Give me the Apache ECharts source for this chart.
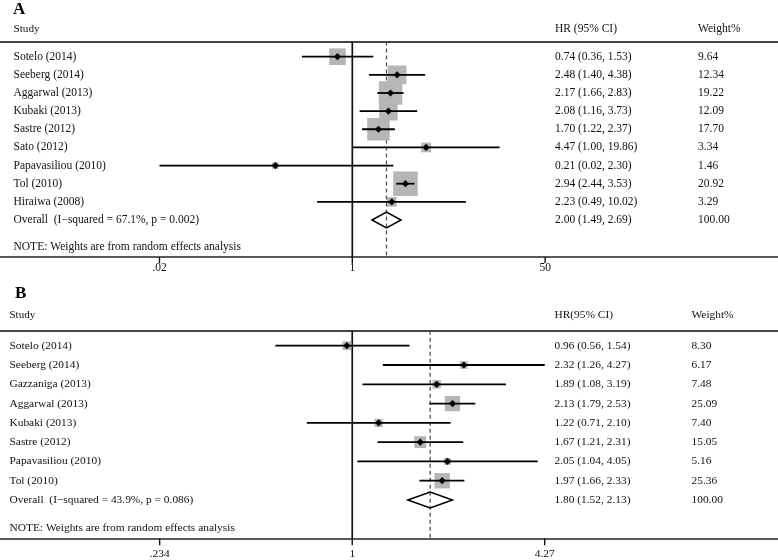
<!DOCTYPE html>
<html><head><meta charset="utf-8">
<script src="https://cdn.jsdelivr.net/npm/echarts@6/dist/echarts.min.js"></script>
<style>html,body{margin:0;padding:0;background:#fff}#c{width:778px;height:560px}</style>
</head><body><div id="c"></div>
<script>
// ---- Panel A data ----
const studiesA = ['Sotelo (2014)','Seeberg (2014)','Aggarwal (2013)','Kubaki (2013)','Sastre (2012)','Sato (2012)','Papavasiliou (2010)','Tol (2010)','Hiraiwa (2008)'];
const hrA = [0.74, 2.48, 2.17, 2.08, 1.70, 4.47, 0.21, 2.94, 2.23];
const loA = [0.36, 1.40, 1.66, 1.16, 1.22, 1.00, 0.02, 2.44, 0.49];
const hiA = [1.53, 4.38, 2.83, 3.73, 2.37, 19.86, 2.30, 3.53, 10.02];
const wA  = [9.64, 12.34, 19.22, 12.09, 17.70, 3.34, 1.46, 20.92, 3.29];
const overallA = [2.00, 1.49, 2.69];
const overallLabelA = 'Overall  (I\u2212squared = 67.1%, p = 0.002)';
const ticksA = [0.02, 1, 50];
const tickLabelsA = ['.02', '1', '50'];

// ---- Panel B data ----
const studiesB = ['Sotelo (2014)','Seeberg (2014)','Gazzaniga (2013)','Aggarwal (2013)','Kubaki (2013)','Sastre (2012)','Papavasiliou (2010)','Tol (2010)'];
const hrB = [0.96, 2.32, 1.89, 2.13, 1.22, 1.67, 2.05, 1.97];
const loB = [0.56, 1.26, 1.08, 1.79, 0.71, 1.21, 1.04, 1.66];
const hiB = [1.54, 4.27, 3.19, 2.53, 2.10, 2.31, 4.05, 2.33];
const wB  = [8.30, 6.17, 7.48, 25.09, 7.40, 15.05, 5.16, 25.36];
const overallB = [1.80, 1.52, 2.13];
const overallLabelB = 'Overall  (I\u2212squared = 43.9%, p = 0.086)';
const ticksB = [0.234, 1, 4.27];
const tickLabelsB = ['.234', '1', '4.27'];

const noteText = 'NOTE: Weights are from random effects analysis';
const FONT = '"Liberation Serif", "Times New Roman", serif';

function fmt(v){ return v.toFixed(2); }

const chart = echarts.init(document.getElementById('c'), null, {renderer:'canvas'});

function panel(gi, P) {
  const n = P.studies.length;
  const series = [];
  // reference lines (x = 1 solid, overall dashed)
  series.push({
    type:'custom', xAxisIndex: gi*2, yAxisIndex: gi, z: 1,
    data: [[1, 0], [P.overall[0], 0]],
    encode: {x:0, y:1},
    renderItem: function(params, api){
      const cs = params.coordSys;
      const x = api.coord([api.value(0), 0])[0];
      const dashed = params.dataIndex === 1;
      return {type:'line', shape:{x1:x, y1:cs.y, x2:x, y2:cs.y+cs.height},
        style:{stroke: dashed ? '#555' : '#111', lineWidth: dashed ? 1.3 : 1.7, lineDash: dashed ? [4,3] : null}};
    }
  });
  // study squares, CI lines, point markers
  series.push({
    type:'custom', xAxisIndex: gi*2, yAxisIndex: gi, z: 2,
    data: P.studies.map((s,i)=>[P.hr[i], P.lo[i], P.hi[i], P.w[i], i]),
    encode: {x:[0,1,2], y:4},
    renderItem: function(params, api){
      const r = api.value(4);
      const c = api.coord([api.value(0), r]);
      const l = api.coord([api.value(1), r]);
      const h = api.coord([api.value(2), r]);
      const s = P.k * Math.sqrt(api.value(3));
      const d = 3.6;
      return {type:'group', children:[
        {type:'rect', shape:{x:c[0]-s/2, y:c[1]-s/2, width:s, height:s}, style:{fill:'#b6b6b6'}},
        {type:'line', shape:{x1:l[0], y1:l[1], x2:h[0], y2:h[1]}, style:{stroke:'#000', lineWidth:1.8}},
        {type:'polygon', shape:{points:[[c[0]-d,c[1]],[c[0],c[1]-d],[c[0]+d,c[1]],[c[0],c[1]+d]]}, style:{fill:'#000'}}
      ]};
    }
  });
  // overall diamond
  series.push({
    type:'custom', xAxisIndex: gi*2, yAxisIndex: gi, z: 3,
    data: [[P.overall[0], P.overall[1], P.overall[2], n]],
    encode: {x:[0,1,2], y:3},
    renderItem: function(params, api){
      const r = api.value(3);
      const c = api.coord([api.value(0), r]);
      const l = api.coord([api.value(1), r]);
      const h = api.coord([api.value(2), r]);
      const hh = 8;
      return {type:'polygon', shape:{points:[[l[0],c[1]],[c[0],c[1]-hh],[h[0],c[1]],[c[0],c[1]+hh]]},
        style:{fill:'none', stroke:'#000', lineWidth:1.5}};
    }
  });
  // row texts
  const rows = P.studies.map((s,i)=>[1, i, s, fmt(P.hr[i])+' ('+fmt(P.lo[i])+', '+fmt(P.hi[i])+')', fmt(P.w[i])]);
  rows.push([1, n, P.overallLabel, fmt(P.overall[0])+' ('+fmt(P.overall[1])+', '+fmt(P.overall[2])+')', '100.00']);
  series.push({
    type:'custom', xAxisIndex: gi*2, yAxisIndex: gi, z: 4,
    data: rows.map(r=>[r[0], r[1]]),
    encode: {x:0, y:1},
    renderItem: function(params, api){
      const y = api.coord([1, api.value(1)])[1];
      const row = rows[params.dataIndex];
      const st = (t)=>({text:t, font:P.fs+'px '+FONT, fill:'#111', align:'left', verticalAlign:'middle'});
      return {type:'group', children:[
        {type:'text', x:P.xStudy, y:y, style:st(row[2])},
        {type:'text', x:P.xHR, y:y, style:st(row[3])},
        {type:'text', x:P.xW, y:y, style:st(row[4])}
      ]};
    }
  });
  // axis ticks and labels
  series.push({
    type:'custom', xAxisIndex: gi*2, yAxisIndex: gi, z: 4,
    data: P.ticks.map(v=>[v, 0]),
    encode: {x:0, y:1},
    renderItem: function(params, api){
      const cs = params.coordSys;
      const x = api.coord([api.value(0), 0])[0];
      const yb = cs.y + cs.height;
      return {type:'group', children:[
        {type:'line', shape:{x1:x, y1:yb, x2:x, y2:yb+P.tickLen}, style:{stroke:'#111', lineWidth:1.4}},
        {type:'text', x:x, y:yb+P.labelOff, style:{text:P.tickLabels[params.dataIndex], font:P.fs+'px '+FONT, fill:'#111', align:'center', verticalAlign:'middle'}}
      ]};
    }
  });
  return series;
}

const PA = {studies:studiesA, hr:hrA, lo:loA, hi:hiA, w:wA, overall:overallA, overallLabel:overallLabelA,
  ticks:ticksA, tickLabels:tickLabelsA, k:5.35, fs:11.5, xStudy:13.5, xHR:555, xW:698, tickLen:6, labelOff:11};
const PB = {studies:studiesB, hr:hrB, lo:loB, hi:hiB, w:wB, overall:overallB, overallLabel:overallLabelB,
  ticks:ticksB, tickLabels:tickLabelsB, k:3.05, fs:11.4, xStudy:9.5, xHR:554.5, xW:691.5, tickLen:7, labelOff:16};

const grids = [
  {left:0, right:0, top:41.5, height:215.5},
  {left:0, right:0, top:330.7, height:207.6}
];
function xAxes(gi, min, max){
  return [
    {type:'log', logBase:10, gridIndex:gi, min:min, max:max, position:'bottom',
      axisLine:{show:true, onZero:false, lineStyle:{color:'#222', width:1.6}}, axisTick:{show:false}, axisLabel:{show:false}, splitLine:{show:false}},
    {type:'value', gridIndex:gi, min:0, max:1, position:'top',
      axisLine:{show:true, onZero:false, lineStyle:{color:'#444', width:2}}, axisTick:{show:false}, axisLabel:{show:false}, splitLine:{show:false}}
  ];
}

const option = {
  animation:false,
  backgroundColor:'#fff',
  grid: grids,
  xAxis: xAxes(0, 0.000787, 5630).concat(xAxes(1, 0.0702, 24.8)),
  yAxis: [
    {type:'value', gridIndex:0, inverse:true, min:-0.838, max:11.04, show:false},
    {type:'value', gridIndex:1, inverse:true, min:-0.778, max:9.985, show:false}
  ],
  graphic: [
    {type:'text', left:13, top:1, style:{text:'A', font:'bold 17px '+FONT, fill:'#000'}},
    {type:'text', x:13.5, y:29, style:{text:'Study', font:'11.2px '+FONT, fill:'#111', verticalAlign:'middle'}},
    {type:'text', x:555, y:29, style:{text:'HR (95% CI)', font:'11.5px '+FONT, fill:'#111', verticalAlign:'middle'}},
    {type:'text', x:698, y:29, style:{text:'Weight%', font:'11.5px '+FONT, fill:'#111', verticalAlign:'middle'}},
    {type:'text', x:13.5, y:246.7, style:{text:noteText, font:'11.5px '+FONT, fill:'#111', verticalAlign:'middle'}},
    {type:'text', left:15, top:285, style:{text:'B', font:'bold 17px '+FONT, fill:'#000'}},
    {type:'text', x:9.5, y:315, style:{text:'Study', font:'11px '+FONT, fill:'#111', verticalAlign:'middle'}},
    {type:'text', x:554.5, y:315, style:{text:'HR(95% CI)', font:'11.4px '+FONT, fill:'#111', verticalAlign:'middle'}},
    {type:'text', x:691.5, y:315, style:{text:'Weight%', font:'11.4px '+FONT, fill:'#111', verticalAlign:'middle'}},
    {type:'text', x:9.5, y:528, style:{text:noteText, font:'11.4px '+FONT, fill:'#111', verticalAlign:'middle'}}
  ],
  series: panel(0, PA).concat(panel(1, PB))
};
chart.setOption(option);
</script>
</body></html>
